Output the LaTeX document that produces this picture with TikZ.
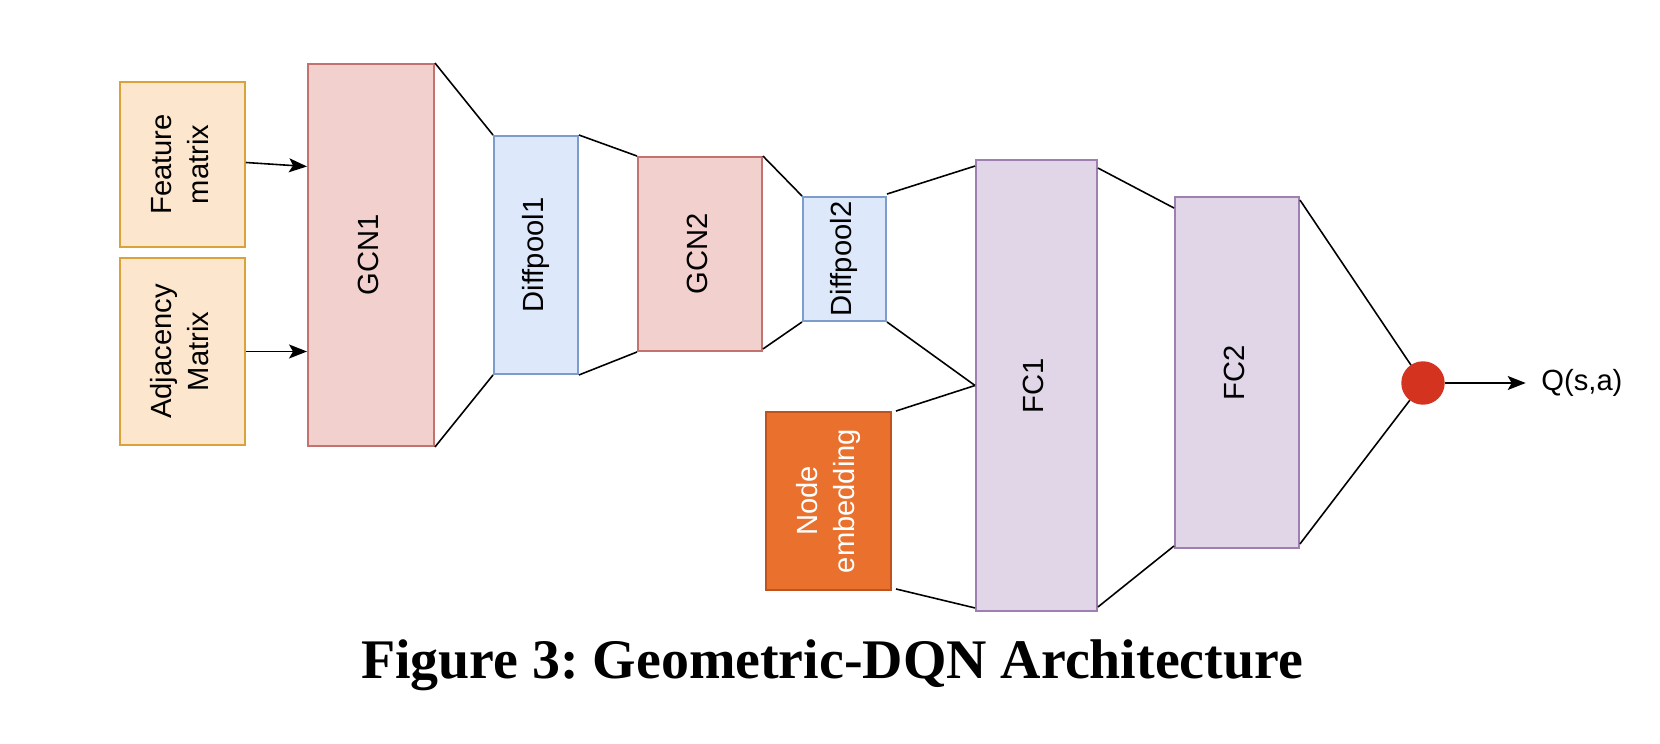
\documentclass[tikz,border=0pt]{standalone}
\usepackage{fontspec}
\setsansfont{Liberation Sans}
\newfontfamily\captionfont{Liberation Serif}
\usetikzlibrary{arrows.meta, positioning}

\definecolor{inFill}{HTML}{FCE6CD}
\definecolor{inDraw}{HTML}{D9A33A}
\definecolor{gcnFill}{HTML}{F2D0CE}
\definecolor{gcnDraw}{HTML}{C27370}
\definecolor{poolFill}{HTML}{DDE8FA}
\definecolor{poolDraw}{HTML}{7C9CCB}
\definecolor{fcFill}{HTML}{E0D6E8}
\definecolor{fcDraw}{HTML}{9D7FB0}
\definecolor{embFill}{HTML}{E9702D}
\definecolor{embDraw}{HTML}{BF5320}
\definecolor{outRed}{HTML}{D3331F}

% vertical (rotated) label, may have several lines
\newcommand{\vlabel}[1]{\rotatebox{90}{\begin{tabular}{@{}c@{}}#1\end{tabular}}}

\begin{document}
\frenchspacing
\begin{tikzpicture}[x=0.1mm, y=-0.1mm]
    % Define styles
    \tikzstyle{layer} = [rectangle, draw, line width=0.55pt, inner sep=0pt, font=\sffamily\fontsize{8.3}{10.5}\selectfont]
    \tikzstyle{input} = [layer, fill=inFill, draw=inDraw]
    \tikzstyle{gcn} = [layer, fill=gcnFill, draw=gcnDraw]
    \tikzstyle{pool} = [layer, fill=poolFill, draw=poolDraw]
    \tikzstyle{fc} = [layer, fill=fcFill, draw=fcDraw]
    \tikzstyle{embed} = [layer, fill=embFill, draw=embDraw, text=white]
    \tikzstyle{line} = [draw, line width=0.45pt]
    \tikzstyle{arrow} = [line, -{Stealth[length=1.8mm, width=1.4mm, inset=0.4mm]}]

    \useasboundingbox (0,0) rectangle (1660,744);

    % Inputs
    \node[input, minimum width=12.5mm, minimum height=16.5mm] (Feat) at (182.5,164.5) {\vlabel{Feature\\matrix}};
    \node[input, minimum width=12.5mm, minimum height=18.7mm] (Adj) at (182.5,351.5) {\vlabel{Adjacency\\Matrix}};

    % Graph layers
    \node[gcn, minimum width=12.6mm, minimum height=38.2mm] (GCN1) at (371,255) {\vlabel{GCN1}};
    \node[pool, minimum width=8.4mm, minimum height=23.8mm] (Pool1) at (536,255) {\vlabel{Diffpool1}};
    \node[gcn, minimum width=12.4mm, minimum height=19.4mm] (GCN2) at (700,254) {\vlabel{GCN2}};
    \node[pool, minimum width=8.3mm, minimum height=12.4mm] (Pool2) at (844.5,259) {\vlabel{Diffpool2}};

    % Node embedding input
    \node[embed, minimum width=12.5mm, minimum height=17.8mm] (Emb) at (828.5,501) {\vlabel{Node\\embedding}};

    % Fully connected layers
    \node[fc, minimum width=12.1mm, minimum height=45.1mm] (FC1) at (1036.5,385.5) {\vlabel{FC1}};
    \node[fc, minimum width=12.4mm, minimum height=35.1mm] (FC2) at (1237,372.5) {\vlabel{FC2}};

    % Output
    \node[circle, fill=outRed, draw=outRed, minimum size=4.2mm, inner sep=0pt] (Out) at (1423,383) {};
    \node[right=8.1mm of Out, inner sep=1.5mm, font=\sffamily\fontsize{8.3}{10}\selectfont] (Q) {Q(s,a)};

    % Input arrows
    \draw[arrow] ([yshift=0.2mm]Feat.east) -- ([yshift=-0.2mm]Feat.east -| GCN1.west);
    \draw[arrow] (Adj.east) -- (Adj.east -| GCN1.west);

    % Funnel connections between layers
    \draw[line] (GCN1.north east) -- (Pool1.north west);
    \draw[line] (GCN1.south east) -- (Pool1.south west);
    \draw[line] (Pool1.north east) -- (GCN2.north west);
    \draw[line] (Pool1.south east) -- (GCN2.south west);
    \draw[line] (GCN2.north east) -- (Pool2.north west);
    \draw[line] ([yshift=0.3mm]GCN2.south east) -- (Pool2.south west);
    \draw[line] ([yshift=0.2mm]Pool2.north east) -- ([yshift=-0.7mm]FC1.north west);
    \draw[line] (Pool2.south east) -- (FC1.west);
    \draw[line] ([xshift=0.4mm]Emb.north east) -- (FC1.west);
    \draw[line] ([xshift=0.4mm, yshift=0.2mm]Emb.south east) -- ([yshift=0.4mm]FC1.south west);
    \draw[line] ([yshift=-0.9mm]FC1.north east) -- ([yshift=-1.2mm]FC2.north west);
    \draw[line] ([yshift=0.5mm]FC1.south east) -- ([yshift=0.3mm]FC2.south west);

    % Into the output unit
    \draw[line] ([yshift=-0.4mm]FC2.north east) -- (Out);
    \draw[line] ([yshift=0.5mm]FC2.south east) -- (Out);
    \draw[arrow] (Out) -- (Q);

    % Caption
    \node[anchor=base, font=\captionfont\bfseries\fontsize{15.9}{18}\selectfont] (Cap) at (832,678) {Figure 3: Geometric-DQN Architecture};
\end{tikzpicture}
\end{document}
